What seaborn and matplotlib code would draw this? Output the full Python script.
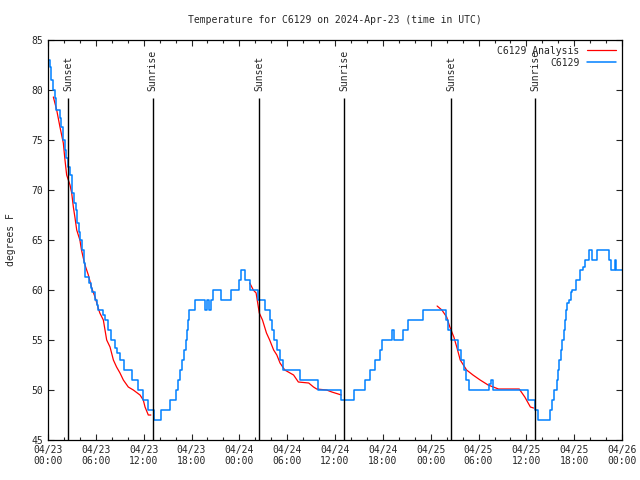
import matplotlib
matplotlib.use("Agg")
import matplotlib.pyplot as plt
import seaborn as sns
import numpy as np
import pandas as pd
from matplotlib.ticker import MultipleLocator

# observed temperature (deg F), step change points, hours since 04/23 00:00 UTC
obs_hours = [0.0, 0.2, 0.4, 0.6, 0.85, 1.05, 1.45, 1.65, 1.9, 2.1, 2.3, 2.55, 2.8, 3.0,
             3.2, 3.45, 3.65, 3.85, 4.05, 4.25, 4.5, 4.7, 5.1, 5.35, 5.55, 5.9, 6.1, 6.3,
             6.9, 7.15, 7.5, 7.95, 8.35, 8.65, 9.0, 9.55, 10.55, 11.3, 11.95, 12.6, 13.25,
             14.2, 15.25, 16.0, 16.3, 16.55, 16.85, 17.05, 17.25, 17.45, 17.6, 17.7, 18.4,
             19.75, 19.95, 20.15, 20.45, 20.75, 21.7, 22.95, 23.95, 24.15, 24.65, 25.3,
             26.3, 27.2, 27.85, 28.05, 28.3, 28.7, 29.1, 29.5, 31.6, 33.9, 36.75, 38.4,
             39.7, 40.4, 40.95, 41.7, 41.85, 43.2, 43.45, 44.5, 45.2, 47.0, 49.9, 50.2,
             50.6, 51.4, 51.75, 52.15, 52.45, 52.75, 55.35, 55.55, 55.8, 60.15, 61.1,
             61.5, 62.95, 63.2, 63.5, 63.8, 64.0, 64.15, 64.3, 64.5, 64.7, 64.85, 65.0,
             65.15, 65.35, 65.55, 65.7, 66.2, 66.75, 67.1, 67.35, 67.85, 68.25, 68.8,
             70.3, 70.55, 71.1, 71.3, 72.0]
obs_temps = [83.0, 82.3, 81.0, 80.0, 79.2, 78.0, 77.2, 76.3, 75.0, 74.0, 73.2, 72.3, 71.5, 69.7,
             68.7, 68.0, 66.7, 65.8, 65.0, 64.0, 62.7, 61.3, 60.7, 60.2, 59.8, 59.0, 58.5, 58.0,
             57.5, 57.0, 56.0, 55.0, 54.2, 53.7, 53.0, 52.0, 51.0, 50.0, 49.0, 48.0, 47.0,
             48.0, 49.0, 50.0, 51.0, 52.0, 53.0, 54.0, 55.0, 56.0, 57.0, 58.0, 59.0,
             58.0, 59.0, 58.0, 59.0, 60.0, 59.0, 60.0, 61.0, 62.0, 61.0, 60.0,
             59.0, 58.0, 57.0, 56.0, 55.0, 54.0, 53.0, 52.0, 51.0, 50.0, 49.0, 50.0,
             51.0, 52.0, 53.0, 54.0, 55.0, 56.0, 55.0, 56.0, 57.0, 58.0, 57.0, 56.0,
             55.0, 54.0, 53.0, 52.0, 51.0, 50.0, 50.6, 51.0, 50.0, 49.0, 48.0,
             47.0, 48.0, 49.0, 50.0, 51.0, 52.0, 53.0, 54.0, 55.0, 56.0, 57.0, 58.0,
             58.7, 59.0, 59.8, 60.0, 61.0, 62.0, 62.3, 63.0, 64.0, 63.0, 64.0,
             63.0, 62.0, 63.0, 62.0, 62.0]

# analysis curves (three evening cooling segments)
ana1_hours = [0.67, 1.09, 1.5, 1.92, 2.13, 2.34, 2.55, 2.76, 2.97, 3.18, 3.39, 3.6, 4.0, 4.2,
              4.4, 4.64, 5.06, 5.48, 5.9, 6.3, 6.5, 6.94, 7.36, 7.78, 8.2, 8.6, 9.03, 9.45,
              10.07, 10.7, 11.54, 11.95, 12.17, 12.58, 12.9]
ana1_temps = [79.3, 78.0, 76.3, 74.7, 73.0, 71.5, 71.0, 70.5, 69.7, 68.3, 67.2, 66.0, 65.0, 64.0,
              63.3, 62.5, 61.5, 60.2, 59.3, 58.2, 57.7, 57.0, 55.0, 54.3, 53.0, 52.3, 51.7, 51.0,
              50.3, 50.0, 49.5, 49.0, 48.3, 47.5, 47.5]
ana2_hours = [25.3, 25.75, 26.1, 26.3, 26.5, 26.9, 27.4, 27.8, 28.3, 28.7, 29.1, 29.7, 30.8,
              31.4, 32.7, 33.3, 33.7, 34.95, 35.6, 36.4, 36.8]
ana2_temps = [60.7, 60.0, 59.7, 58.7, 57.7, 57.0, 55.7, 55.0, 54.0, 53.5, 52.7, 52.0, 51.5,
              50.8, 50.7, 50.3, 50.1, 50.0, 49.8, 49.6, 49.5]
ana3_hours = [48.8, 49.4, 50.0, 50.4, 50.9, 51.3, 51.7, 52.5, 53.3, 54.2, 55.2, 56.5, 59.1,
              59.8, 60.5, 60.9]
ana3_temps = [58.4, 58.0, 57.3, 56.3, 55.3, 54.2, 53.0, 52.0, 51.5, 51.0, 50.5, 50.1, 50.1,
              49.3, 48.3, 48.2]

sun_hours = [2.55, 13.13, 26.5, 37.17, 50.55, 61.13]
sun_labels = ["Sunset", "Sunrise", "Sunset", "Sunrise", "Sunset", "Sunrise"]

tick_hours = list(range(0, 73, 6))
tick_labels = ["04/23\n00:00", "04/23\n06:00", "04/23\n12:00", "04/23\n18:00",
               "04/24\n00:00", "04/24\n06:00", "04/24\n12:00", "04/24\n18:00",
               "04/25\n00:00", "04/25\n06:00", "04/25\n12:00", "04/25\n18:00",
               "04/26\n00:00"]

sns.set_style("ticks")
plt.rcParams["font.family"] = ["DejaVu Sans Mono"]
plt.rcParams["font.size"] = 7

obs = pd.DataFrame({"hour": obs_hours, "temp": obs_temps})
ana = pd.concat([
    pd.DataFrame({"hour": ana1_hours, "temp": ana1_temps, "seg": 1}),
    pd.DataFrame({"hour": ana2_hours, "temp": ana2_temps, "seg": 2}),
    pd.DataFrame({"hour": ana3_hours, "temp": ana3_temps, "seg": 3}),
])

fig = plt.figure(figsize=(6.4, 4.8), dpi=100)
ax = fig.add_axes([0.075, 0.0833, 0.897, 0.8334])

sns.lineplot(data=ana, x="hour", y="temp", units="seg", estimator=None, sort=False,
             color="#ff0000", linewidth=0.9, label="C6129 Analysis", ax=ax)
sns.lineplot(data=obs, x="hour", y="temp", estimator=None, sort=False,
             color="#0080ff", linewidth=1.1, drawstyle="steps-post", label="C6129", ax=ax)

for h, lab in zip(sun_hours, sun_labels):
    ax.vlines(h, 45, 79.2, color="black", linewidth=1)
    ax.text(h, 79.9, lab, rotation=90, ha="center", va="bottom", fontsize=7)

ax.set_xlim(0, 72)
ax.set_ylim(45, 85)
ax.set_xticks(tick_hours)
ax.set_xticklabels(tick_labels)
ax.xaxis.set_minor_locator(MultipleLocator(2))
ax.yaxis.set_major_locator(MultipleLocator(5))
ax.tick_params(which="both", direction="in", top=True, right=True, width=0.8)
ax.tick_params(which="major", length=4.5)
ax.tick_params(which="minor", length=2.5)
for s in ax.spines.values():
    s.set_linewidth(0.9)
    s.set_color("black")

ax.set_xlabel("")
ax.set_ylabel("degrees F", labelpad=11)
ax.set_title("Temperature for C6129 on 2024-Apr-23 (time in UTC)", fontsize=7, pad=12)

# one legend entry per series
handles, labels = ax.get_legend_handles_labels()
uniq = {}
for hd, lb in zip(handles, labels):
    uniq.setdefault(lb, hd)
ax.legend(list(uniq.values()), list(uniq.keys()), loc="upper right", frameon=False,
          markerfirst=False, fontsize=7, handlelength=3.0, borderaxespad=0.2,
          labelspacing=0.2)

fig.savefig("out.png", dpi=100)
